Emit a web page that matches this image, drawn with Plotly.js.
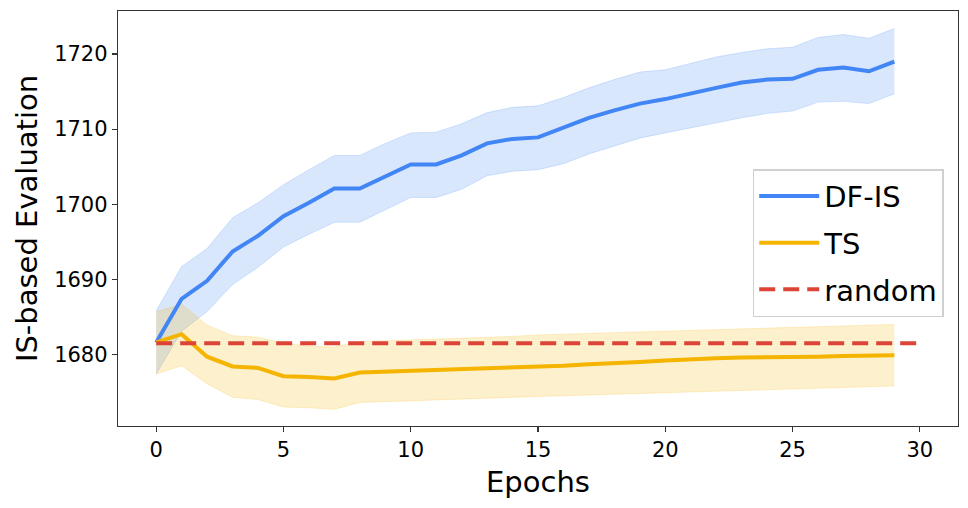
<!DOCTYPE html>
<html>
<head>
<meta charset="utf-8">
<script src="https://cdn.plot.ly/plotly-3.0.1.min.js"></script>
<style>html,body{margin:0;padding:0;background:#fff;}#chart{width:968px;height:508px;}</style>
</head>
<body>
<div id="chart"></div>
<script>
const epochs = [0,1,2,3,4,5,6,7,8,9,10,11,12,13,14,15,16,17,18,19,20,21,22,23,24,25,26,27,28,29];

const dfisMean  = [1681.6,1687.4,1689.8,1693.7,1695.8,1698.4,1700.2,1702.1,1702.1,1703.7,1705.3,1705.3,1706.5,1708.1,1708.7,1708.9,1710.2,1711.5,1712.5,1713.4,1714.0,1714.8,1715.5,1716.2,1716.6,1716.7,1717.9,1718.2,1717.7,1719.0];
const dfisUpper = [1685.8,1691.7,1694.1,1698.2,1700.2,1702.6,1704.6,1706.5,1706.5,1708.1,1709.5,1709.6,1710.7,1712.2,1712.9,1713.1,1714.2,1715.5,1716.6,1717.6,1717.9,1718.8,1719.6,1720.2,1720.7,1720.9,1722.2,1722.6,1722.1,1723.4];
const dfisLower = [1677.4,1683.1,1685.7,1689.3,1691.6,1694.3,1696.0,1697.6,1697.6,1699.3,1700.9,1700.9,1702.0,1703.8,1704.4,1704.6,1705.4,1706.7,1707.7,1708.8,1709.5,1710.2,1710.8,1711.5,1712.1,1712.4,1713.6,1713.7,1713.4,1714.7];

const tsMean  = [1681.6,1682.7,1679.7,1678.4,1678.2,1677.1,1677.0,1676.8,1677.6,1677.7,1677.8,1677.9,1678.1,1678.2,1678.3,1678.4,1678.5,1678.7,1678.8,1679.0,1679.2,1679.4,1679.5,1679.6,1679.6,1679.6,1679.7,1679.8,1679.8,1679.9];
const tsUpper = [1685.7,1686.7,1683.9,1682.5,1682.3,1681.5,1681.1,1681.0,1681.7,1681.8,1681.9,1682.0,1682.1,1682.2,1682.4,1682.6,1682.7,1682.8,1682.9,1683.0,1683.1,1683.2,1683.3,1683.4,1683.5,1683.6,1683.7,1683.8,1683.9,1684.0];
const tsLower = [1677.4,1678.5,1676.1,1674.3,1674.0,1673.0,1672.9,1672.7,1673.6,1673.7,1673.8,1673.9,1674.0,1674.2,1674.2,1674.4,1674.5,1674.6,1674.7,1674.8,1674.9,1675.0,1675.1,1675.2,1675.3,1675.4,1675.5,1675.6,1675.7,1675.8];

const randomEpochs = [0, 30];
const randomValue  = [1681.5, 1681.5];

const xTicks = [0,5,10,15,20,25,30];
const yTicks = [1680,1690,1700,1710,1720];

const BLUE = '#4285F4', YELLOW = '#F4B400', RED = '#DB4437';
const BLUE_A = 'rgba(66,133,244,0.2)', YELLOW_A = 'rgba(244,180,0,0.2)';

const traces = [
  {x: epochs, y: dfisUpper, mode: 'lines', line: {color: BLUE_A, width: 1}, showlegend: false, hoverinfo: 'skip', legendgroup: 'a'},
  {x: epochs, y: dfisLower, mode: 'lines', line: {color: BLUE_A, width: 1}, fill: 'tonexty', fillcolor: BLUE_A, showlegend: false, hoverinfo: 'skip', legendgroup: 'a'},
  {x: epochs, y: tsUpper, mode: 'lines', line: {color: YELLOW_A, width: 1}, showlegend: false, hoverinfo: 'skip', legendgroup: 'b'},
  {x: epochs, y: tsLower, mode: 'lines', line: {color: YELLOW_A, width: 1}, fill: 'tonexty', fillcolor: YELLOW_A, showlegend: false, hoverinfo: 'skip', legendgroup: 'b'},
  {x: epochs, y: dfisMean, mode: 'lines', name: 'DF-IS', line: {color: BLUE, width: 4}, legendgroup: 'a'},
  {x: epochs, y: tsMean, mode: 'lines', name: 'TS', line: {color: YELLOW, width: 4}, legendgroup: 'b'},
  {x: randomEpochs, y: randomValue, mode: 'lines', name: 'random', line: {color: RED, width: 4, dash: '16px,8px'}, legendgroup: 'c'}
];

const font = {family: 'DejaVu Sans, sans-serif', color: '#000'};

const layout = {
  width: 968, height: 508,
  margin: {l: 118, r: 10, t: 11, b: 82},
  paper_bgcolor: '#fff', plot_bgcolor: '#fff',
  font: font,
  showlegend: true,
  legend: {
    x: 0.983, xanchor: 'right', y: 0.619, yanchor: 'top',
    traceorder: 'grouped', tracegroupgap: 6, itemwidth: 60,
    font: {family: 'DejaVu Sans, sans-serif', size: 29, color: '#000'},
    bordercolor: '#d0d0d0', borderwidth: 1.5, bgcolor: 'rgba(255,255,255,0.8)'
  },
  xaxis: {
    range: [-1.5, 31.5], tickvals: xTicks, ticktext: xTicks.map(String),
    showgrid: false, zeroline: false,
    showline: true, mirror: true, linecolor: '#333', linewidth: 1.2,
    ticks: 'outside', ticklen: 5, tickwidth: 1.2, tickcolor: '#333',
    tickfont: {family: 'DejaVu Sans, sans-serif', size: 21, color: '#000'},
    title: {text: 'Epochs', font: {family: 'DejaVu Sans, sans-serif', size: 29, color: '#000'}, standoff: 10}
  },
  yaxis: {
    range: [1670.47, 1725.73], tickvals: yTicks, ticktext: yTicks.map(String),
    showgrid: false, zeroline: false,
    showline: true, mirror: true, linecolor: '#333', linewidth: 1.2,
    ticks: 'outside', ticklen: 5, tickwidth: 1.2, tickcolor: '#333',
    tickfont: {family: 'DejaVu Sans, sans-serif', size: 21, color: '#000'},
    title: {text: 'IS-based Evaluation', font: {family: 'DejaVu Sans, sans-serif', size: 29, color: '#000'}, standoff: 8}
  }
};

Plotly.newPlot('chart', traces, layout, {displayModeBar: false, staticPlot: true});
</script>
</body>
</html>
